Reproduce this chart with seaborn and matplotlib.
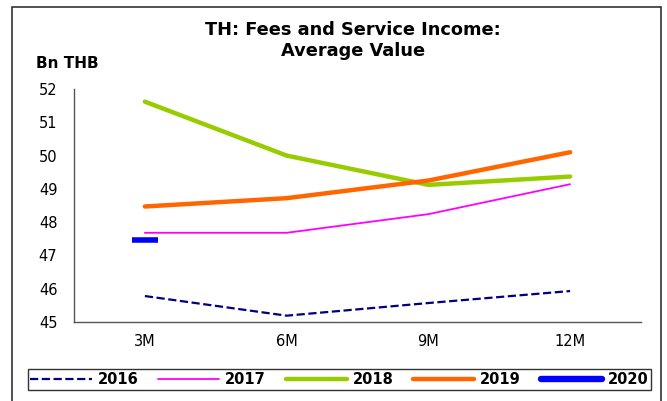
import pandas as pd
import matplotlib.pyplot as plt
import seaborn as sns
from matplotlib.lines import Line2D
from matplotlib.patches import Rectangle

periods = ["3M", "6M", "9M", "12M"]
v2016 = [45.78, 45.19, 45.57, 45.93]
v2017 = [47.68, 47.68, 48.24, 49.14]
v2018 = [51.62, 50.00, 49.12, 49.37]
v2019 = [48.47, 48.72, 49.25, 50.10]
v2020 = [47.47]

years = ["2016", "2017", "2018", "2019", "2020"]
colors = {"2016": "#000080", "2017": "#FF00FF", "2018": "#99CC00",
          "2019": "#FF6600", "2020": "#0000FF"}
widths = {"2016": 1.6, "2017": 1.3, "2018": 3.2, "2019": 3.2, "2020": 4.0}

rows = []
for yr, vals in zip(years, [v2016, v2017, v2018, v2019, v2020]):
    for i, v in enumerate(vals):
        rows.append({"year": yr, "pos": i, "value": v})
data = pd.DataFrame(rows)

sns.set_style("white")
plt.rcParams["font.family"] = ["DejaVu Sans"]
plt.rcParams["text.color"] = "black"
plt.rcParams["xtick.color"] = "black"
plt.rcParams["ytick.color"] = "black"

fig = plt.figure(figsize=(6.67, 4.01), dpi=100)
ax = fig.add_axes([74 / 667, 1 - 322 / 401, (641 - 74) / 667, (322 - 89) / 401])

# the four full years
for yr in ["2016", "2017", "2018", "2019"]:
    d = data[data["year"] == yr]
    sns.lineplot(data=d, x="pos", y="value", ax=ax, color=colors[yr],
                 lw=widths[yr], linestyle="--" if yr == "2016" else "-")

# 2020 has only one point so far
d20 = data[data["year"] == "2020"]
ax.plot(d20["pos"], d20["value"], marker="_", ms=19, mew=4,
        color=colors["2020"], linestyle="none")

ax.set_xlim(-0.5, 3.5)
ax.set_ylim(45, 52)
ax.set_yticks(range(45, 53))
ax.set_xticks(range(4))
ax.set_xticklabels(periods)
ax.set_xticks([0.5, 1.5, 2.5, 3.5], minor=True)
ax.tick_params(axis="x", which="major", length=0, labelsize=10.5, pad=9,
               labelcolor="black")
ax.tick_params(axis="x", which="minor", length=5, width=1, color="#555555", direction="out")
ax.tick_params(axis="y", length=5, width=1, color="#555555", direction="out",
               labelsize=10.5, pad=7, labelcolor="black")
ax.set_xlabel("")
ax.set_ylabel("")
for s in ["top", "right"]:
    ax.spines[s].set_visible(False)
for s in ["left", "bottom"]:
    ax.spines[s].set_color("#555555")
    ax.spines[s].set_linewidth(1)

fig.text(353 / 667, 1 - 21 / 401, "TH: Fees and Service Income:\nAverage Value",
         ha="center", va="top", fontsize=12.8, fontweight="bold", linespacing=1.2,
         color="black")
fig.text(36 / 667, 1 - 68 / 401, "Bn THB", ha="left", va="baseline",
         fontsize=11, fontweight="bold", color="black")

handles = [Line2D([], [], color=colors[y], lw=widths[y] + (0.6 if y == "2020" else 0),
                  linestyle="--" if y == "2016" else "-",
                  solid_capstyle="round") for y in years]
leg = fig.legend(handles, years, ncol=5, loc="center",
                 bbox_to_anchor=(339.5 / 667, 1 - 379.5 / 401),
                 frameon=True, fancybox=False, handlelength=4.2, handletextpad=0.4,
                 columnspacing=1.35, borderpad=0.2, borderaxespad=0,
                 prop={"weight": "bold", "size": 10.5})
leg.get_frame().set_edgecolor("black")
leg.get_frame().set_linewidth(1)
for t in leg.get_texts():
    t.set_color("black")

fig.patches.append(Rectangle((12 / 667, -0.05), (661 - 12) / 667, 1 - 7 / 401 + 0.05,
                             transform=fig.transFigure, fill=False,
                             edgecolor="#333333", lw=1.2))

fig.savefig("out.png", dpi=100)
